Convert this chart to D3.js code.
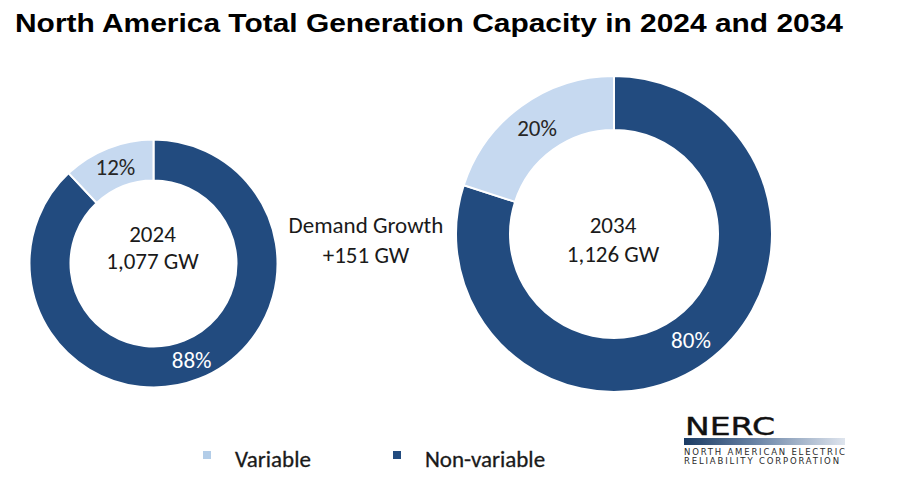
<!DOCTYPE html>
<html>
<head>
<meta charset="utf-8">
<script src="https://cdn.jsdelivr.net/npm/d3@7"></script>
<style>
  html, body { margin: 0; padding: 0; background: #ffffff; }
  svg { display: block; }
</style>
</head>
<body>
<svg id="chart" width="897" height="490"></svg>
<script>
// ---- data ----
const title = "North America Total Generation Capacity in 2024 and 2034";
const years = ["2024", "2034"];
const totalCapacityGW = [1077, 1126];
const categories = ["Non-variable", "Variable"];
const nonVariableShare = [88, 80];
const variableShare = [12, 20];
const demandGrowthGW = 151;
const legendLabels = ["Variable", "Non-variable"];

// ---- style / layout ----
const colors = { "Variable": "#c6d9f0", "Non-variable": "#224b7f" };
const legendColors = { "Variable": "#b3cde8", "Non-variable": "#224b7f" };
const font = "Carlito, Lato, 'Open Sans', sans-serif";
const fs = 23;
const donuts = [
  { cx: 153.5, cy: 263.5, outer: 124, inner: 83, textDy: [-22, 5] },
  { cx: 614, cy: 234, outer: 158, inner: 104, textDy: [-1, 28] }
];

const svg = d3.select("#chart");

svg.append("text")
  .attr("x", 15).attr("y", 32)
  .attr("font-family", "'Liberation Sans', Arial, sans-serif")
  .attr("font-weight", "bold")
  .attr("font-size", 26)
  .attr("textLength", 828)
  .attr("lengthAdjust", "spacingAndGlyphs")
  .attr("fill", "#000")
  .text(title);

const pie = d3.pie().sort(null).value(d => d.value);
const fmt = d3.format(",");

years.forEach((yr, i) => {
  const L = donuts[i];
  const data = [
    { cat: categories[0], value: nonVariableShare[i] },
    { cat: categories[1], value: variableShare[i] }
  ];
  const arc = d3.arc().innerRadius(L.inner).outerRadius(L.outer);
  const g = svg.append("g").attr("transform", `translate(${L.cx},${L.cy})`);
  const arcs = pie(data);
  g.selectAll("path").data(arcs).join("path")
    .attr("d", arc)
    .attr("fill", d => colors[d.data.cat])
    .attr("stroke", "#ffffff")
    .attr("stroke-width", 2);
  g.selectAll("text.pct").data(arcs).join("text")
    .attr("class", "pct")
    .attr("transform", d => {
      const c = arc.centroid(d);
      return `translate(${c[0]},${c[1]})`;
    })
    .attr("text-anchor", "middle")
    .attr("dominant-baseline", "central")
    .attr("font-family", font)
    .attr("font-size", fs)
    .attr("fill", d => d.data.cat === "Variable" ? "#262626" : "#ffffff")
    .text(d => d.data.value + "%");
  g.append("text")
    .attr("x", -1).attr("y", L.textDy[0])
    .attr("text-anchor", "middle")
    .attr("font-family", font).attr("font-size", fs).attr("fill", "#1a1a1a")
    .text(yr);
  g.append("text")
    .attr("x", -1).attr("y", L.textDy[1])
    .attr("text-anchor", "middle")
    .attr("font-family", font).attr("font-size", fs).attr("fill", "#1a1a1a")
    .text(fmt(totalCapacityGW[i]) + " GW");
});

// demand growth annotation
svg.append("text")
  .attr("x", 366).attr("y", 233)
  .attr("text-anchor", "middle")
  .attr("font-family", font).attr("font-size", fs).attr("fill", "#1a1a1a")
  .text("Demand Growth");
svg.append("text")
  .attr("x", 366).attr("y", 263)
  .attr("text-anchor", "middle")
  .attr("font-family", font).attr("font-size", fs).attr("fill", "#1a1a1a")
  .text("+" + demandGrowthGW + " GW");

// legend
const legendX = [203, 393];
const legend = svg.append("g");
legendLabels.forEach((lab, i) => {
  legend.append("rect")
    .attr("x", legendX[i]).attr("y", 451)
    .attr("width", 8).attr("height", 8)
    .attr("fill", legendColors[lab]);
  legend.append("text")
    .attr("x", legendX[i] + 32).attr("y", 467)
    .attr("font-family", font).attr("font-size", fs)
    .attr("fill", "#1a1a1a")
    .attr("stroke", "#1a1a1a").attr("stroke-width", 0.3)
    .text(lab);
});

// NERC logo
const defs = svg.append("defs");
const grad = defs.append("linearGradient").attr("id", "nercGrad")
  .attr("x1", "0%").attr("x2", "100%").attr("y1", "0%").attr("y2", "0%");
grad.append("stop").attr("offset", "0%").attr("stop-color", "#1b3b63");
grad.append("stop").attr("offset", "45%").attr("stop-color", "#6a84a6");
grad.append("stop").attr("offset", "100%").attr("stop-color", "#dfe5ee");
const logo = svg.append("g");
logo.append("text")
  .attr("x", 685).attr("y", 435)
  .attr("font-family", "'DejaVu Sans', sans-serif")
  .attr("font-size", 25)
  .attr("textLength", 90).attr("lengthAdjust", "spacingAndGlyphs")
  .attr("fill", "#111").attr("stroke", "#111").attr("stroke-width", 0.4)
  .text("NERC");
logo.append("rect")
  .attr("x", 684).attr("y", 438).attr("width", 161).attr("height", 7)
  .attr("fill", "url(#nercGrad)");
logo.append("text")
  .attr("x", 684).attr("y", 455)
  .attr("font-family", "'DejaVu Sans', sans-serif").attr("font-size", 8.5)
  .attr("textLength", 161).attr("lengthAdjust", "spacing")
  .attr("fill", "#2a2a2a")
  .text("NORTH AMERICAN ELECTRIC");
logo.append("text")
  .attr("x", 684).attr("y", 464)
  .attr("font-family", "'DejaVu Sans', sans-serif").attr("font-size", 8.5)
  .attr("textLength", 155).attr("lengthAdjust", "spacing")
  .attr("fill", "#2a2a2a")
  .text("RELIABILITY CORPORATION");
</script>
</body>
</html>
